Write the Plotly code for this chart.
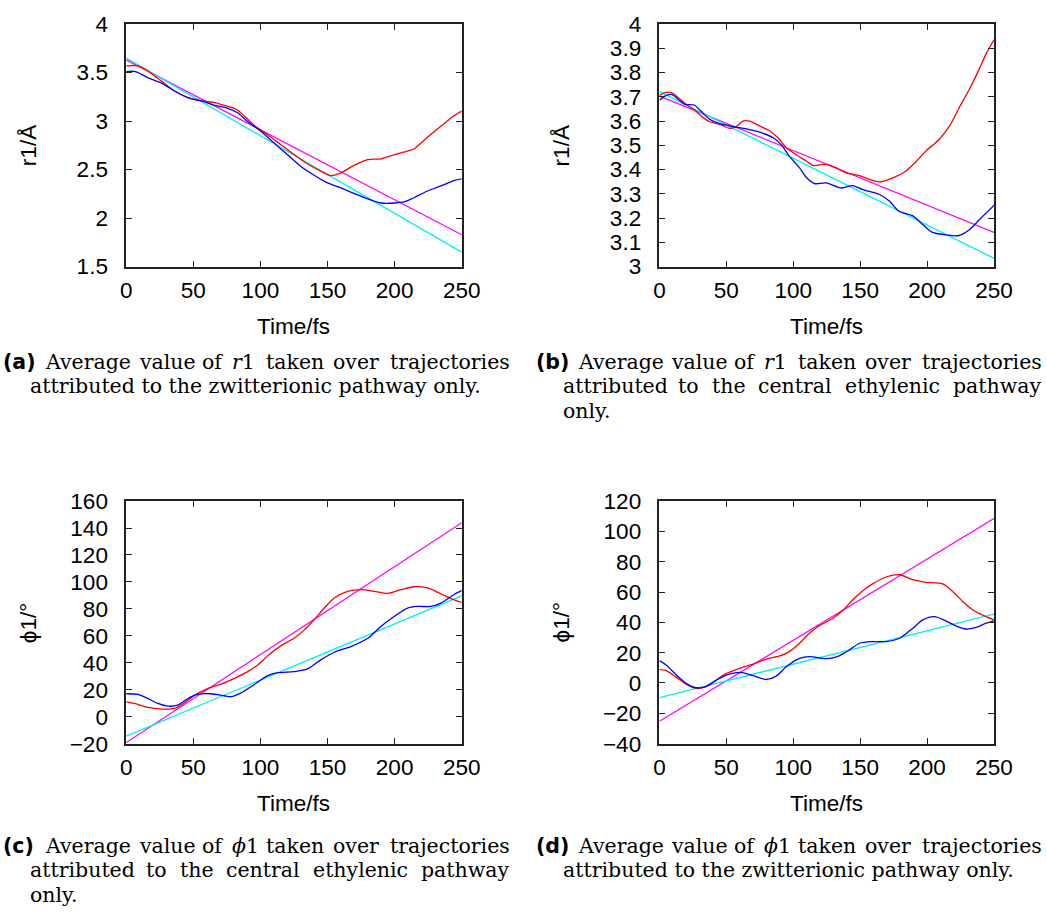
import plotly.graph_objects as go

# Target positions below are given in screen pixels of a 1047x914 view; SX/CX and SY/CY
# convert them to figure pixels for the way the page gets displayed.
SX, CX = 0.978, 4.6
SY, CY = 0.971, 13.0
W, H = 1068, 930
FS = 1 / 0.975  # font scale to compensate the display scale

# ---- data: time axis (fs) and averaged coordinates ----
# (a) r1, zwitterionic pathway
a_red_t = [0, 8.7, 16, 26, 36, 46, 56, 66, 73, 82, 88, 95.5, 105, 115, 125, 135, 145, 152.5,
           160, 170, 180, 190, 200, 209.6, 214.5, 224, 234, 244, 250]
a_red_v = [3.569, 3.569, 3.517, 3.414, 3.31, 3.241, 3.207, 3.19, 3.162, 3.121, 3.052, 2.955,
           2.862, 2.759, 2.655, 2.559, 2.483, 2.438, 2.466, 2.545, 2.603, 2.61, 2.655, 2.69,
           2.714, 2.828, 2.941, 3.052, 3.103]
a_blue_t = [0, 7, 16, 27, 36, 46, 56, 66, 76, 83, 90, 100, 110, 120, 130, 140, 150, 160, 170,
            180, 190, 200, 207, 214, 224, 234, 244, 250]
a_blue_v = [3.51, 3.51, 3.448, 3.386, 3.31, 3.241, 3.207, 3.162, 3.128, 3.086, 3.0, 2.897,
            2.776, 2.655, 2.534, 2.441, 2.362, 2.31, 2.252, 2.197, 2.155, 2.155, 2.166, 2.207,
            2.276, 2.328, 2.386, 2.403]
a_fit_t = [0, 250]
a_magenta_v = [3.631, 1.828]
a_cyan_v = [3.648, 1.648]

# (b) r1, central ethylenic pathway
b_red_t = [0, 4, 9, 14, 20, 26, 32.6, 37.6, 45, 52.5, 57.5, 62.4, 67.4, 75, 82, 88.6, 94.8, 102,
           110, 114.7, 124.6, 132, 139.5, 149.5, 157, 164.4, 174.4, 184, 192, 199, 209, 216.7,
           224, 231.6, 239, 244, 250]
b_red_v = [3.706, 3.717, 3.717, 3.697, 3.669, 3.646, 3.614, 3.597, 3.586, 3.57, 3.577, 3.6, 3.6,
           3.579, 3.561, 3.531, 3.49, 3.462, 3.434, 3.417, 3.421, 3.407, 3.386, 3.375, 3.359,
           3.349, 3.366, 3.393, 3.434, 3.476, 3.524, 3.579, 3.655, 3.731, 3.814, 3.876, 3.935]
b_blue_t = [0, 4, 9, 14, 19, 26, 31, 37.6, 45, 55, 65, 75, 85, 91, 97, 104.7, 110, 116, 124.6,
            136, 144.5, 152, 164.4, 172, 179, 189, 197, 204, 214, 223, 231.6, 239, 250]
b_blue_v = [3.686, 3.703, 3.71, 3.69, 3.669, 3.666, 3.641, 3.607, 3.589, 3.577, 3.568, 3.554,
            3.531, 3.503, 3.455, 3.407, 3.366, 3.342, 3.345, 3.324, 3.334, 3.317, 3.297, 3.269,
            3.228, 3.21, 3.172, 3.141, 3.131, 3.127, 3.152, 3.193, 3.252]
b_fit_t = [0, 250]
b_magenta_v = [3.703, 3.141]
b_cyan_v = [3.721, 3.034]

# (c) phi1, central ethylenic pathway
c_red_t = [0, 6, 16, 26, 36, 42, 51, 61, 71, 80.6, 90.5, 98, 105.4, 115, 125, 132.7, 140, 147.6,
           155, 165, 175, 184.8, 194.7, 204.6, 214.5, 224.5, 234.4, 244, 250]
c_red_v = [11.0, 9.8, 6.8, 5.6, 6.1, 9.3, 16.0, 21.0, 24.2, 28.4, 33.4, 38.4, 45.1, 52.5, 58.2,
           64.4, 71.9, 80.6, 88.0, 93.0, 94.2, 93.0, 91.5, 94.2, 96.4, 95.5, 91.2, 86.8, 84.8]
c_blue_t = [0, 8.7, 16, 23.6, 31, 38.4, 46, 53, 63, 73, 78, 85.6, 95.5, 105.4, 113, 125, 135,
            145, 155, 167.4, 180, 189.7, 199.6, 209.6, 217, 227, 234.4, 244, 250]
c_blue_v = [17.0, 16.5, 13.5, 9.8, 7.8, 8.5, 13.5, 16.5, 17.0, 15.5, 14.8, 17.7, 23.9, 30.4,
            32.6, 33.4, 35.4, 42.1, 47.8, 52.0, 58.2, 66.9, 74.3, 80.6, 81.8, 81.8, 84.3, 90.5,
            93.5]
c_fit_t = [0, 250]
c_magenta_v = [-19.2, 143.9]
c_cyan_v = [-14.5, 89.7]

# (d) phi1, zwitterionic pathway
d_red_t = [0, 5, 12.7, 20, 27.6, 35, 42.5, 50, 60, 70, 80, 90, 97, 104.7, 112, 119.7, 129.6,
           137, 144.5, 152, 159.5, 169.4, 179.4, 189.3, 199, 211.7, 219, 226.6, 234, 244, 250]
d_red_v = [9.0, 8.1, 3.7, -1.0, -3.6, -2.5, 1.9, 6.3, 9.6, 12.5, 15.8, 17.8, 20.7, 26.2, 32.8,
           37.9, 42.7, 47.8, 54.9, 60.8, 65.5, 69.9, 71.4, 68.1, 66.4, 65.3, 60.4, 53.8, 48.3,
           43.8, 41.6]
d_blue_t = [0, 5, 12.7, 20, 26.4, 34, 42.5, 50, 60, 70, 80, 87.3, 94.8, 104.7, 112, 124.6, 133,
            142, 149.5, 159.5, 169.4, 179.4, 189.3, 196.8, 205.5, 214, 222, 229, 236, 244, 250]
d_blue_v = [14.7, 11.8, 5.2, -0.3, -3.0, -2.5, 1.9, 5.2, 7.0, 4.8, 2.3, 4.5, 10.7, 16.2, 17.4,
            16.0, 17.4, 21.8, 26.2, 27.3, 27.3, 29.5, 36.1, 41.6, 43.8, 41.0, 37.5, 35.6, 36.5,
            39.4, 41.0]
d_fit_t = [0, 250]
d_magenta_v = [-25.3, 108.5]
d_cyan_v = [-9.6, 45.4]

x_ticks = [0, 50, 100, 150, 200, 250]
a_yticks = [1.5, 2, 2.5, 3, 3.5, 4]
b_yticks = [3, 3.1, 3.2, 3.3, 3.4, 3.5, 3.6, 3.7, 3.8, 3.9, 4]
c_yticks = [-20, 0, 20, 40, 60, 80, 100, 120, 140, 160]
d_yticks = [-40, -20, 0, 20, 40, 60, 80, 100, 120]

RED, BLUE, MAGENTA, CYAN = "#ff0000", "#0000ff", "#ff00ff", "#00f0f0"

panels = [
    dict(n="", red=(a_red_t, a_red_v), blue=(a_blue_t, a_blue_v), fit_t=a_fit_t,
         mag=a_magenta_v, cyan=a_cyan_v, yr=[1.5, 4], yt=a_yticks),
    dict(n="2", red=(b_red_t, b_red_v), blue=(b_blue_t, b_blue_v), fit_t=b_fit_t,
         mag=b_magenta_v, cyan=b_cyan_v, yr=[3, 4], yt=b_yticks),
    dict(n="3", red=(c_red_t, c_red_v), blue=(c_blue_t, c_blue_v), fit_t=c_fit_t,
         mag=c_magenta_v, cyan=c_cyan_v, yr=[-20, 160], yt=c_yticks),
    dict(n="4", red=(d_red_t, d_red_v), blue=(d_blue_t, d_blue_v), fit_t=d_fit_t,
         mag=d_magenta_v, cyan=d_cyan_v, yr=[-40, 120], yt=d_yticks),
]

# plot-area boxes in screen pixels: (left, right, top, bottom)
boxes = [(125, 461, 25, 267), (659, 994, 25, 267), (125, 461, 501, 743), (659, 994, 501, 743)]


def fx(x):
    return ((x - CX) / SX) / W


def fy(y):
    return 1 - ((y - CY) / SY) / H


fig = go.Figure()
layout = dict(width=W, height=H, margin=dict(l=0, r=0, t=0, b=0),
              paper_bgcolor="white", plot_bgcolor="white", showlegend=False)

tickfont = dict(family="Liberation Sans, Arial, sans-serif", size=22 * FS, color="black")

for p, (l, r, t, b) in zip(panels, boxes):
    xa, ya = "x" + p["n"], "y" + p["n"]
    fig.add_trace(go.Scatter(x=p["fit_t"], y=p["mag"], mode="lines", xaxis=xa, yaxis=ya,
                             line=dict(color=MAGENTA, width=1.3)))
    fig.add_trace(go.Scatter(x=p["fit_t"], y=p["cyan"], mode="lines", xaxis=xa, yaxis=ya,
                             line=dict(color=CYAN, width=1.3)))
    fig.add_trace(go.Scatter(x=p["red"][0], y=p["red"][1], mode="lines", xaxis=xa, yaxis=ya,
                             line=dict(color=RED, width=1.3, shape="spline", smoothing=0.8)))
    fig.add_trace(go.Scatter(x=p["blue"][0], y=p["blue"][1], mode="lines", xaxis=xa, yaxis=ya,
                             line=dict(color=BLUE, width=1.3, shape="spline", smoothing=0.8)))
    common = dict(showline=True, linecolor="#222", linewidth=1.5, mirror="ticks",
                  ticks="inside", ticklen=6, tickwidth=1.2, tickcolor="#222",
                  showgrid=False, zeroline=False, tickfont=tickfont)
    layout["xaxis" + p["n"]] = dict(domain=[fx(l), fx(r)], anchor=ya, range=[0, 250],
                                    tickvals=x_ticks, ticklabelstandoff=3, **common)
    layout["yaxis" + p["n"]] = dict(domain=[fy(b), fy(t)], anchor=xa, range=p["yr"],
                                    tickvals=p["yt"], ticklabelstandoff=12, **common)

fig.update_layout(**layout)

annots = []
lab_font = dict(family="Liberation Sans, Arial, sans-serif", size=22 * FS, color="black")


def px_note(text, x, y, xanchor="center", yanchor="middle", font=lab_font, angle=0):
    annots.append(dict(text=text, x=fx(x), y=fy(y), xref="paper", yref="paper",
                       xanchor=xanchor, yanchor=yanchor, showarrow=False, font=font,
                       textangle=angle))


# axis titles
for (l, r, t, b), ylab in zip(boxes, ["r1/Å", "r1/Å", "ϕ1/°", "ϕ1/°"]):
    px_note("Time/fs", (l + r) / 2, b + 60)
    px_note(ylab, l - 98, (t + b) / 2 + 0.5, angle=-90)

# sub-figure captions: justified lines are set word by word, the last word
# flush with the right edge of the column
cap_font = dict(family="DejaVu Serif, serif", size=20 * FS, color="black")
tag_font = dict(family="DejaVu Sans, sans-serif", size=20 * FS, color="black")
LINE = 24.5
COL_W = 511


def set_words(words, x0, y):
    for word, dx in words[:-1]:
        px_note(word, x0 + dx, y, xanchor="left", font=cap_font)
    px_note(words[-1][0], x0 + COL_W, y, xanchor="right", font=cap_font)


def caption(letter, sym, rest, x0, y0):
    first = [("Average", 42), ("value", 136), ("of", 199), (f"<i>{sym}</i>1", 229),
             ("taken", 263), ("over", 330), ("trajectories", None)]
    px_note(f"<b>({letter})</b>", x0, y0, xanchor="left", font=tag_font)
    set_words(first, x0, y0)
    for k, line in enumerate(rest):
        yk = y0 + LINE * (k + 1)
        if isinstance(line, str):
            px_note(line, x0 + 27, yk, xanchor="left", font=cap_font)
        else:
            set_words(line, x0, yk)


central = [("attributed", 27), ("to", 143), ("the", 177), ("central", 223),
           ("ethylenic", 310), ("pathway", None)]
caption("a", "r", ["attributed to the zwitterionic pathway only."], 0, 362)
caption("b", "r", [central, "only."], 533, 362)
caption("c", "ϕ", [central, "only."], 0, 845)
caption("d", "ϕ", ["attributed to the zwitterionic pathway only."], 533, 845)

fig.update_layout(annotations=annots)
fig.write_html("out.html")
